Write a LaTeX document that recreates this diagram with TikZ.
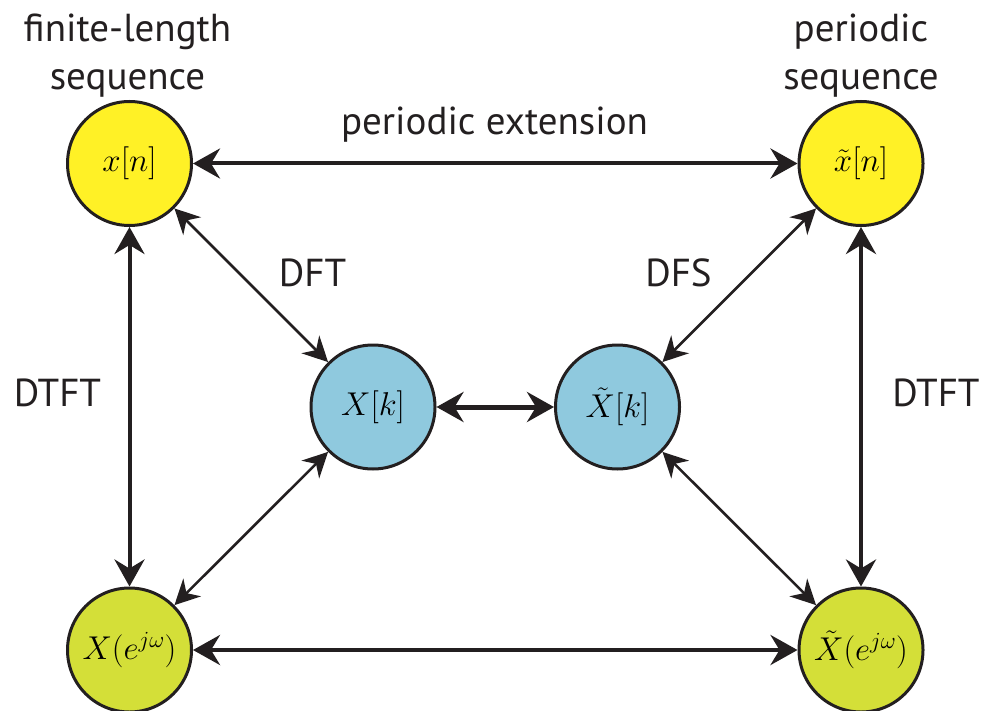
\RequirePackage{fix-cm}
\documentclass[tikz,border=0pt]{standalone}
\usepackage{fontspec}
\setmainfont{PT Sans}
\usetikzlibrary{arrows.meta}
\definecolor{yel}{HTML}{FFF126}
\definecolor{ygr}{HTML}{D4DF38}
\definecolor{blu}{HTML}{8FC9DE}
\definecolor{ink}{HTML}{231F20}
\begin{document}
\begin{tikzpicture}[x=1pt,y=-1pt,
  circ/.style={circle, draw=ink, line width=3pt, minimum size=124pt, inner sep=0pt,
    font=\fontsize{33}{40}\selectfont},
  lbl/.style={anchor=base, text=ink, inner sep=0pt, font=\fontsize{39}{47}\selectfont},
  thk/.style={draw=ink, line width=4pt, {Stealth[length=27pt,width=30pt,inset=9pt]}-{Stealth[length=27pt,width=30pt,inset=9pt]}},
  mid/.style={draw=ink, line width=5pt, {Stealth[length=27pt,width=30pt,inset=9pt]}-{Stealth[length=27pt,width=30pt,inset=9pt]}},
  thn/.style={draw=ink, line width=2.6pt, {Stealth[length=25pt,width=25pt,inset=8pt]}-{Stealth[length=25pt,width=25pt,inset=8pt]}}
]
\useasboundingbox (0,0) rectangle (981,711);
\node[circ, fill=yel] (xn) at (129.5,163.5) {$x[n]$};
\node[circ, fill=yel] (xt) at (861,163.5) {$\tilde{x}[n]$};
\node[circ, fill=blu] (Xk) at (373,407) {$X[k]$};
\node[circ, fill=blu] (Xtk) at (617.5,407) {$\tilde{X}[k]$};
\node[circ, fill=ygr] (Xw) at (129.5,650) {$X(e^{j\omega})$};
\node[circ, fill=ygr] (Xtw) at (861,650) {$\tilde{X}(e^{j\omega})$};

\node[lbl] (l1) at (127.5,42) {finite-length};
\node[lbl] (l2) at (127.5,90) {sequence};
\node[lbl] (l3) at (861,42) {periodic};
\node[lbl] (l4) at (861,90) {sequence};
\node[lbl] (l5) at (494.5,135) {periodic extension};
\node[lbl] (l6) at (312.5,286) {DFT};
\node[lbl] (l7) at (678.5,286) {DFS};
\node[lbl] (l8) at (57.5,406) {DTFT};
\node[lbl] (l9) at (936,406) {DTFT};

\draw[thk] (xn) -- (xt);
\draw[thk] (Xw) -- (Xtw);
\draw[thk] (xn) -- (Xw);
\draw[thk] (xt) -- (Xtw);
\draw[mid] (Xk) -- (Xtk);
\draw[thn] (xn) -- (Xk);
\draw[thn] (Xw) -- (Xk);
\draw[thn] (xt) -- (Xtk);
\draw[thn] (Xtw) -- (Xtk);
\end{tikzpicture}
\end{document}
